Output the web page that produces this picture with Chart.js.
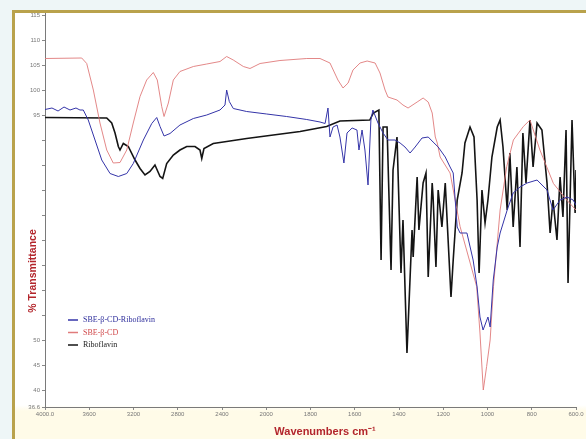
<!DOCTYPE html>
<html>
<head>
<meta charset="utf-8">
<script src="https://cdn.jsdelivr.net/npm/chart.js@4/dist/chart.umd.min.js"></script>
<style>
  html, body { margin: 0; padding: 0; }
  body { width: 586px; height: 439px; overflow: hidden; position: relative; background: #eef6f7; }
  #frame {
    position: absolute; left: 12px; top: 10px; width: 600px; height: 460px;
    border: 3px solid #b9a24c; box-sizing: border-box;
    background: linear-gradient(to bottom, #ffffff 0px, #ffffff 392px, #fffbe8 398px, #fffbe8 100%);
  }
  #wrap { position: absolute; left: 0; top: 0; width: 586px; height: 439px; }
</style>
</head>
<body>
<div id="frame"></div>
<div id="wrap"><canvas id="c" width="586" height="439"></canvas></div>
<script>
// Wavenumber axis ticks (cm-1): 400 steps down to 2000, then 200 steps
const xTickValues = [4000, 3600, 3200, 2800, 2400, 2000, 1800, 1600, 1400, 1200, 1000, 800, 600];
const xTickLabels = ['4000.0', '3600', '3200', '2800', '2400', '2000', '1800', '1600', '1400', '1200', '1000', '800', '600.0'];

// %T axis
const yMin = 36.6;
const yMax = 115.4;
const yTickValues = [40, 45, 50, 55, 60, 65, 70, 75, 80, 85, 90, 95, 100, 105, 110, 115];
const yLabeledTicks = [40, 45, 50, 95, 100, 105, 110, 115];

// SBE-β-CD-Riboflavin
const complexWn = [4000, 3937, 3882, 3828, 3774, 3720, 3684, 3654, 3609, 3548, 3487, 3412, 3337, 3261, 3202, 3111,
  3035, 2990, 2960, 2924, 2870, 2780, 2659, 2538, 2418, 2373, 2358, 2334, 2298, 2177, 1998, 1908, 1817, 1757, 1734,
  1721, 1712, 1698, 1680, 1667, 1649, 1635, 1612, 1590, 1581, 1567, 1554, 1540, 1527, 1518, 1495, 1472, 1450, 1418,
  1395, 1373, 1350, 1327, 1296, 1268, 1246, 1223, 1191, 1169, 1155, 1137, 1124, 1093, 1065, 1047, 1034, 1020, 998,
  988, 974, 956, 943, 911, 884, 853, 821, 776, 731, 704, 672, 640, 613, 600];
const complexT = [96.1, 96.4, 95.8, 96.6, 96.0, 96.4, 96.0, 96.0, 94.0, 90.0, 86.0, 83.3, 82.7, 83.3, 85.3, 90.0,
  93.3, 94.5, 92.7, 90.8, 91.3, 93.0, 94.3, 95.0, 96.0, 97.0, 100.0, 97.7, 96.3, 95.7, 95.2, 94.7, 94.1, 93.6, 93.3,
  96.4, 90.6, 92.6, 93.0, 90.6, 85.4, 91.4, 92.4, 92.0, 88.0, 92.0, 88.0, 81.0, 94.0, 96.0, 93.4, 91.4, 90.0, 90.0,
  89.4, 88.6, 87.4, 88.6, 90.4, 90.6, 89.6, 88.6, 86.6, 84.6, 83.4, 72.6, 71.4, 71.4, 66.0, 60.6, 54.6, 52.0, 54.6,
  52.6, 62.0, 68.6, 71.4, 76.0, 79.4, 80.6, 81.4, 82.0, 80.0, 76.0, 78.0, 78.6, 78.0, 77.0];

// SBE-β-CD
const cdWn = [4000, 3668, 3623, 3563, 3503, 3442, 3383, 3322, 3261, 3202, 3141, 3081, 3021, 2985, 2945, 2924, 2885,
  2840, 2780, 2659, 2538, 2418, 2358, 2298, 2207, 2147, 2056, 1938, 1817, 1757, 1712, 1676, 1653, 1630, 1608, 1576,
  1544, 1508, 1486, 1463, 1450, 1409, 1382, 1359, 1318, 1291, 1268, 1250, 1236, 1227, 1214, 1169, 1124, 1049, 1034,
  1019, 1004, 988, 973, 943, 913, 883, 838, 808, 763, 702, 642, 600];
const cdT = [106.3, 106.4, 105.3, 100.0, 93.4, 88.0, 85.4, 85.5, 88.0, 93.4, 98.7, 102.0, 103.5, 102.0, 96.7, 94.7,
  97.4, 102.0, 103.7, 104.7, 105.2, 105.7, 106.7, 106.0, 104.7, 104.3, 105.3, 105.9, 106.3, 106.3, 105.4, 102.0,
  100.4, 101.4, 104.0, 105.4, 105.8, 105.4, 103.4, 100.0, 98.6, 98.0, 97.0, 96.4, 97.6, 98.4, 97.6, 95.4, 90.6, 89.4,
  86.6, 83.4, 72.7, 60.7, 51.4, 40.0, 44.7, 50.0, 60.7, 76.0, 84.7, 90.0, 92.7, 94.0, 88.0, 81.3, 78.0, 76.0];

// Riboflavin
const riboWn = [4000, 3442, 3397, 3367, 3337, 3322, 3292, 3247, 3186, 3141, 3096, 3051, 3006, 2960, 2936, 2900, 2840,
  2780, 2719, 2644, 2599, 2583, 2563, 2479, 2358, 2177, 1968, 1847, 1727, 1667, 1532, 1516, 1491, 1481, 1472, 1454,
  1436, 1427, 1409, 1391, 1382, 1364, 1341, 1336, 1318, 1310, 1291, 1278, 1268, 1250, 1246, 1233, 1223, 1206, 1191,
  1165, 1155, 1137, 1115, 1102, 1079, 1061, 1047, 1038, 1025, 1011, 998, 980, 956, 943, 930, 911, 899, 884, 867, 853,
  840, 826, 808, 794, 776, 754, 731, 717, 704, 686, 672, 659, 645, 636, 618, 604, 600];
const riboT = [94.5, 94.4, 93.4, 91.4, 88.7, 88.0, 89.3, 88.7, 86.0, 84.3, 83.0, 83.7, 85.0, 82.7, 82.3, 85.3, 87.0,
  88.0, 88.7, 88.7, 88.0, 86.3, 88.3, 89.3, 89.7, 90.3, 91.0, 91.7, 92.7, 93.8, 94.0, 95.4, 96.0, 66.0, 92.6, 92.6,
  64.0, 84.0, 90.6, 63.4, 74.0, 47.4, 72.0, 66.6, 82.6, 72.0, 81.4, 83.4, 62.6, 81.4, 78.6, 64.6, 80.0, 72.6, 81.4,
  58.6, 66.0, 78.0, 83.4, 89.4, 92.6, 90.6, 78.0, 63.4, 80.0, 73.4, 78.0, 86.6, 92.6, 94.0, 88.6, 76.0, 87.4, 72.6,
  84.6, 68.6, 91.4, 81.4, 94.0, 84.6, 93.4, 92.0, 81.4, 71.4, 78.0, 70.0, 82.6, 74.6, 92.0, 61.4, 94.0, 75.4, 84.0];

// The wavenumber axis changes scale at 2000 cm-1, so each wavenumber is placed
// by interpolating between the neighbouring axis ticks.
function wnToPos(wn) {
  for (let i = 0; i < xTickValues.length - 1; i++) {
    const a = xTickValues[i], b = xTickValues[i + 1];
    if (wn <= a && wn >= b) return i + (a - wn) / (a - b);
  }
  return wn > xTickValues[0] ? 0 : xTickValues.length - 1;
}
function toPoints(wn, t) { return wn.map((w, i) => ({ x: wnToPos(w), y: t[i] })); }

const axisTitles = {
  id: 'axisTitles',
  afterDraw(chart) {
    const ctx = chart.ctx;
    ctx.save();
    ctx.fillStyle = '#b3262c';
    ctx.font = 'bold 11px "Liberation Sans", Arial, sans-serif';
    ctx.textAlign = 'center';
    ctx.textBaseline = 'middle';
    ctx.fillText('Wavenumbers cm\u207B\u00B9', 325, 432);
    ctx.translate(33, 271);
    ctx.rotate(-Math.PI / 2);
    ctx.font = 'bold 10.5px "Liberation Sans", Arial, sans-serif';
    ctx.fillText('% Transmittance', 0, 0);
    ctx.restore();
  }
};

const insetLegend = {
  id: 'insetLegend',
  afterDatasetsDraw(chart) {
    const ctx = chart.ctx;
    const textColors = ['#2e2e9c', '#d0484a', '#222222'];
    ctx.save();
    ctx.font = '8px "Liberation Serif", "Times New Roman", serif';
    ctx.textBaseline = 'middle';
    chart.data.datasets.forEach((ds, i) => {
      const y = 320 + i * 12.5;
      ctx.strokeStyle = ds.borderColor;
      ctx.lineWidth = 1.5;
      ctx.beginPath();
      ctx.moveTo(68, y);
      ctx.lineTo(78, y);
      ctx.stroke();
      ctx.fillStyle = textColors[i];
      ctx.fillText(ds.label, 83, y);
    });
    ctx.restore();
  }
};

new Chart(document.getElementById('c'), {
  type: 'line',
  data: {
    datasets: [
      { label: 'SBE-\u03B2-CD-Riboflavin', data: toPoints(complexWn, complexT), borderColor: '#3434a8', borderWidth: 1 },
      { label: 'SBE-\u03B2-CD', data: toPoints(cdWn, cdT), borderColor: '#e07b7b', borderWidth: 0.9 },
      { label: 'Riboflavin', data: toPoints(riboWn, riboT), borderColor: '#141414', borderWidth: 1.6 }
    ]
  },
  options: {
    responsive: false,
    animation: false,
    layout: { padding: { left: 0, top: 13, right: 10, bottom: 0 } },
    elements: { point: { radius: 0 }, line: { tension: 0 } },
    plugins: { legend: { display: false }, tooltip: { enabled: false } },
    scales: {
      x: {
        type: 'linear', min: 0, max: xTickValues.length - 1,
        afterFit(scale) { scale.height = 32; },
        grid: { drawOnChartArea: false, drawTicks: true, tickLength: 3, color: '#888' },
        border: { display: true, color: '#7a7a7a', width: 1 },
        ticks: {
          stepSize: 1, autoSkip: false, maxRotation: 0, padding: 1,
          color: '#777', font: { size: 6, family: '"Liberation Sans", Arial, sans-serif' },
          callback: (v) => xTickLabels[v] ?? ''
        }
      },
      y: {
        min: yMin, max: yMax,
        afterFit(scale) { scale.width = 45; },
        afterBuildTicks(scale) {
          scale.ticks = [{ value: yMin }].concat(yTickValues.map(v => ({ value: v })));
        },
        grid: { drawOnChartArea: false, drawTicks: true, tickLength: 3, color: '#888' },
        border: { display: true, color: '#7a7a7a', width: 1 },
        ticks: {
          autoSkip: false, padding: 2,
          color: '#777', font: { size: 6, family: '"Liberation Sans", Arial, sans-serif' },
          callback: (v) => {
            if (v === yMin) return yMin.toFixed(1);
            return yLabeledTicks.includes(v) ? String(v) : '';
          }
        }
      }
    }
  },
  plugins: [axisTitles, insetLegend]
});
</script>
</body>
</html>
